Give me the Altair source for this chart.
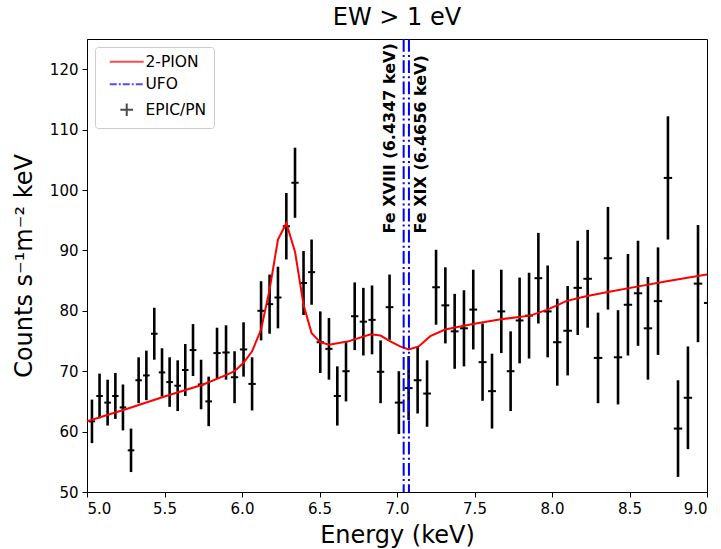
import altair as alt
import pandas as pd

# ---------------- data ----------------
energy = [5.032, 5.081, 5.133, 5.183, 5.232, 5.284, 5.333, 5.383, 5.434, 5.484,
          5.533, 5.585, 5.634, 5.684, 5.736, 5.785, 5.839, 5.897, 5.952, 6.010,
          6.065, 6.123, 6.178, 6.232, 6.286, 6.342, 6.397, 6.449, 6.505, 6.561,
          6.615, 6.671, 6.727, 6.783, 6.839, 6.894, 6.952, 7.012, 7.075, 7.133,
          7.194, 7.252, 7.312, 7.372, 7.432, 7.492, 7.552, 7.613, 7.673, 7.733,
          7.791, 7.852, 7.912, 7.972, 8.034, 8.101, 8.166, 8.230, 8.297, 8.361,
          8.426, 8.490, 8.555, 8.619, 8.684, 8.748, 8.813, 8.877, 8.942, 9.008]
counts = [61.7, 65.9, 64.8, 65.9, 64.0, 56.9, 68.5, 69.3, 76.2, 69.8,
          68.2, 67.6, 70.2, 73.5, 67.8, 65.0, 73.0, 73.1, 69.0, 73.6,
          67.9, 80.0, 81.1, 82.2, 94.0, 101.2, 84.6, 86.4, 74.8, 73.7,
          65.9, 70.0, 79.1, 78.2, 78.5, 69.9, 80.6, 64.8, 67.2, 68.5,
          66.3, 83.9, 80.9, 76.6, 77.1, 80.2, 71.5, 66.7, 79.9, 70.0,
          78.4, 79.2, 85.4, 79.9, 74.8, 76.7, 83.8, 85.3, 72.2, 88.7,
          72.3, 81.0, 82.9, 77.1, 81.6, 102.0, 60.5, 65.6, 84.5, 81.3]
count_err = [3.6, 3.7, 3.8, 3.8, 3.8, 3.6, 3.8, 4.1, 4.3, 4.0,
             4.1, 4.2, 4.3, 4.3, 4.1, 4.1, 4.2, 4.5, 4.3, 4.5,
             4.4, 4.9, 4.9, 5.1, 5.5, 5.8, 5.3, 5.4, 5.1, 5.1,
             4.9, 5.0, 5.6, 5.6, 5.7, 5.2, 5.4, 5.2, 5.3, 5.5,
             5.5, 6.2, 6.3, 6.2, 6.3, 6.6, 6.4, 6.2, 6.9, 6.6,
             7.1, 7.1, 7.5, 7.6, 7.2, 7.4, 7.8, 8.1, 7.5, 8.5,
             7.8, 8.4, 8.7, 8.5, 8.9, 10.2, 8.0, 8.5, 9.7, 9.0]

model_energy = [5.00, 5.25, 5.50, 5.75, 5.90, 5.952, 6.010, 6.065, 6.123, 6.178,
                6.232, 6.286, 6.342, 6.397, 6.449, 6.505, 6.561, 6.68, 6.83, 6.894,
                6.96, 7.02, 7.075, 7.14, 7.215, 7.31, 7.49, 7.67, 7.86, 7.97,
                8.05, 8.09, 8.22, 8.36, 8.55, 8.74, 9.00]
model_counts = [61.7, 63.7, 65.8, 67.8, 69.4, 70.0, 71.4, 73.3, 76.9, 83.5,
                91.8, 94.5, 89.8, 81.0, 76.3, 74.8, 74.4, 74.9, 76.1, 75.9,
                74.9, 74.1, 73.6, 74.1, 75.8, 76.9, 77.8, 78.6, 79.2, 80.2,
                81.1, 81.6, 82.4, 83.1, 84.0, 84.9, 86.0]

ufo_energy = [7.043, 7.077]
ufo_labels = ["Fe XVIII (6.4347 keV)", "Fe XIX (6.4656 keV)"]
ufo_label_y = [92.8, 92.8]

legend_names = ["2-PION", "UFO", "EPIC/PN"]
legend_colors = ["#ff0000", "#0000ff", "#000000"]

x_ticks = [5.0, 5.5, 6.0, 6.5, 7.0, 7.5, 8.0, 8.5, 9.0]
y_ticks = [50, 60, 70, 80, 90, 100, 110, 120]

# ---------------- tables ----------------
df = pd.DataFrame({"E": energy, "c": counts, "err": count_err})
sp = df["E"].diff()
local = pd.concat([sp, sp.shift(-1)], axis=1).mean(axis=1)
df["xe"] = 0.42 * local
df["lo"] = df["E"] - df["xe"]
df["hi"] = df["E"] + df["xe"]
df["c_lo"] = df["c"] - df["err"]
df["c_hi"] = df["c"] + df["err"]

model_df = pd.DataFrame({"E": model_energy, "c": model_counts})
ufo_df = pd.DataFrame({"E": ufo_energy, "label": ufo_labels, "y": ufo_label_y})
leg_df = pd.DataFrame({"series": legend_names, "E": [4.0] * 3, "c": [60.0] * 3})

FONT = "DejaVu Sans"
xs = alt.Scale(domain=[5.0, 9.0], nice=False, zero=False)
ys = alt.Scale(domain=[50, 125], nice=False, zero=False)
x_axis = alt.Axis(values=x_ticks, format=".1f", title="Energy (keV)", titlePadding=7)
y_axis = alt.Axis(values=y_ticks, format="d", title="Counts s⁻¹m⁻² keV", titlePadding=13)

base = alt.Chart(df)

vbars = base.mark_rule(color="black", strokeWidth=2.6, clip=True).encode(
    x=alt.X("E:Q", scale=xs, axis=x_axis),
    y=alt.Y("c_lo:Q", scale=ys, axis=y_axis),
    y2="c_hi:Q",
)
hbars = base.mark_rule(color="black", strokeWidth=2, clip=True).encode(
    x=alt.X("lo:Q", scale=xs), x2="hi:Q", y=alt.Y("c:Q", scale=ys)
)
model = alt.Chart(model_df).mark_line(color="#ff0000", strokeWidth=2, clip=True).encode(
    x=alt.X("E:Q", scale=xs), y=alt.Y("c:Q", scale=ys)
)
ufo = alt.Chart(ufo_df).mark_rule(
    color="#0000ff", strokeWidth=2, strokeDash=[12.8, 3.2, 2, 3.2]
).encode(x=alt.X("E:Q", scale=xs))

lab1 = alt.Chart(ufo_df.iloc[[0]]).mark_text(
    angle=270, align="left", baseline="middle", font=FONT, fontSize=16,
    fontWeight="bold", color="black", dy=-14
).encode(x=alt.X("E:Q", scale=xs), y=alt.Y("y:Q", scale=ys), text="label:N")
lab2 = alt.Chart(ufo_df.iloc[[1]]).mark_text(
    angle=270, align="left", baseline="middle", font=FONT, fontSize=16,
    fontWeight="bold", color="black", dy=12
).encode(x=alt.X("E:Q", scale=xs), y=alt.Y("y:Q", scale=ys), text="label:N")

# legend glyphs: custom paths in units of sqrt(size)/2 (size 72 -> 4.24 px per unit)
LINE_PATH = "M0,0H8"
PLUS_PATH = "M2.5,0H5.5M4,-1.5V1.5"
LEG = dict(title=None, orient="top-left", offset=8)
legend_layer = alt.Chart(leg_df).mark_point(
    filled=False, clip=True, strokeWidth=2, size=72
).encode(
    x=alt.X("E:Q", scale=xs),
    y=alt.Y("c:Q", scale=ys),
    color=alt.Color("series:N", scale=alt.Scale(domain=legend_names, range=legend_colors),
                    legend=alt.Legend(**LEG)),
    shape=alt.Shape("series:N", scale=alt.Scale(domain=legend_names,
                    range=[LINE_PATH, LINE_PATH, PLUS_PATH]),
                    legend=alt.Legend(**LEG)),
    strokeDash=alt.StrokeDash("series:N", scale=alt.Scale(domain=legend_names,
                    range=[[1, 0], [7, 2, 2, 2], [1, 0]]),
                    legend=alt.Legend(**LEG)),
)

chart = alt.layer(vbars, hbars, model, ufo, lab1, lab2, legend_layer).properties(
    width=620, height=453,
    background="white",
    title=alt.TitleParams("EW > 1 eV", font=FONT, fontSize=24, fontWeight="normal",
                          color="black", anchor="middle", frame="group", offset=8),
    autosize=alt.AutoSizeParams(type="none"),
    padding={"left": 87, "top": 39, "right": 14, "bottom": 57},
).configure_view(
    stroke="black", strokeWidth=1
).configure_axis(
    grid=False, domainColor="black", tickColor="black", tickSize=5, labelPadding=4,
    labelFont=FONT, labelFontSize=15, labelColor="black",
    titleFont=FONT, titleFontSize=24, titleFontWeight="normal", titleColor="black",
).configure_legend(
    labelFont=FONT, labelFontSize=15.5, labelColor="black", labelOffset=28,
    padding=7, offset=8, strokeColor="#cccccc", fillColor="white", cornerRadius=3,
    symbolStrokeWidth=2, symbolSize=72, rowPadding=5.5,
)

chart.save("out.html", embed_options={"renderer": "svg", "actions": False})
